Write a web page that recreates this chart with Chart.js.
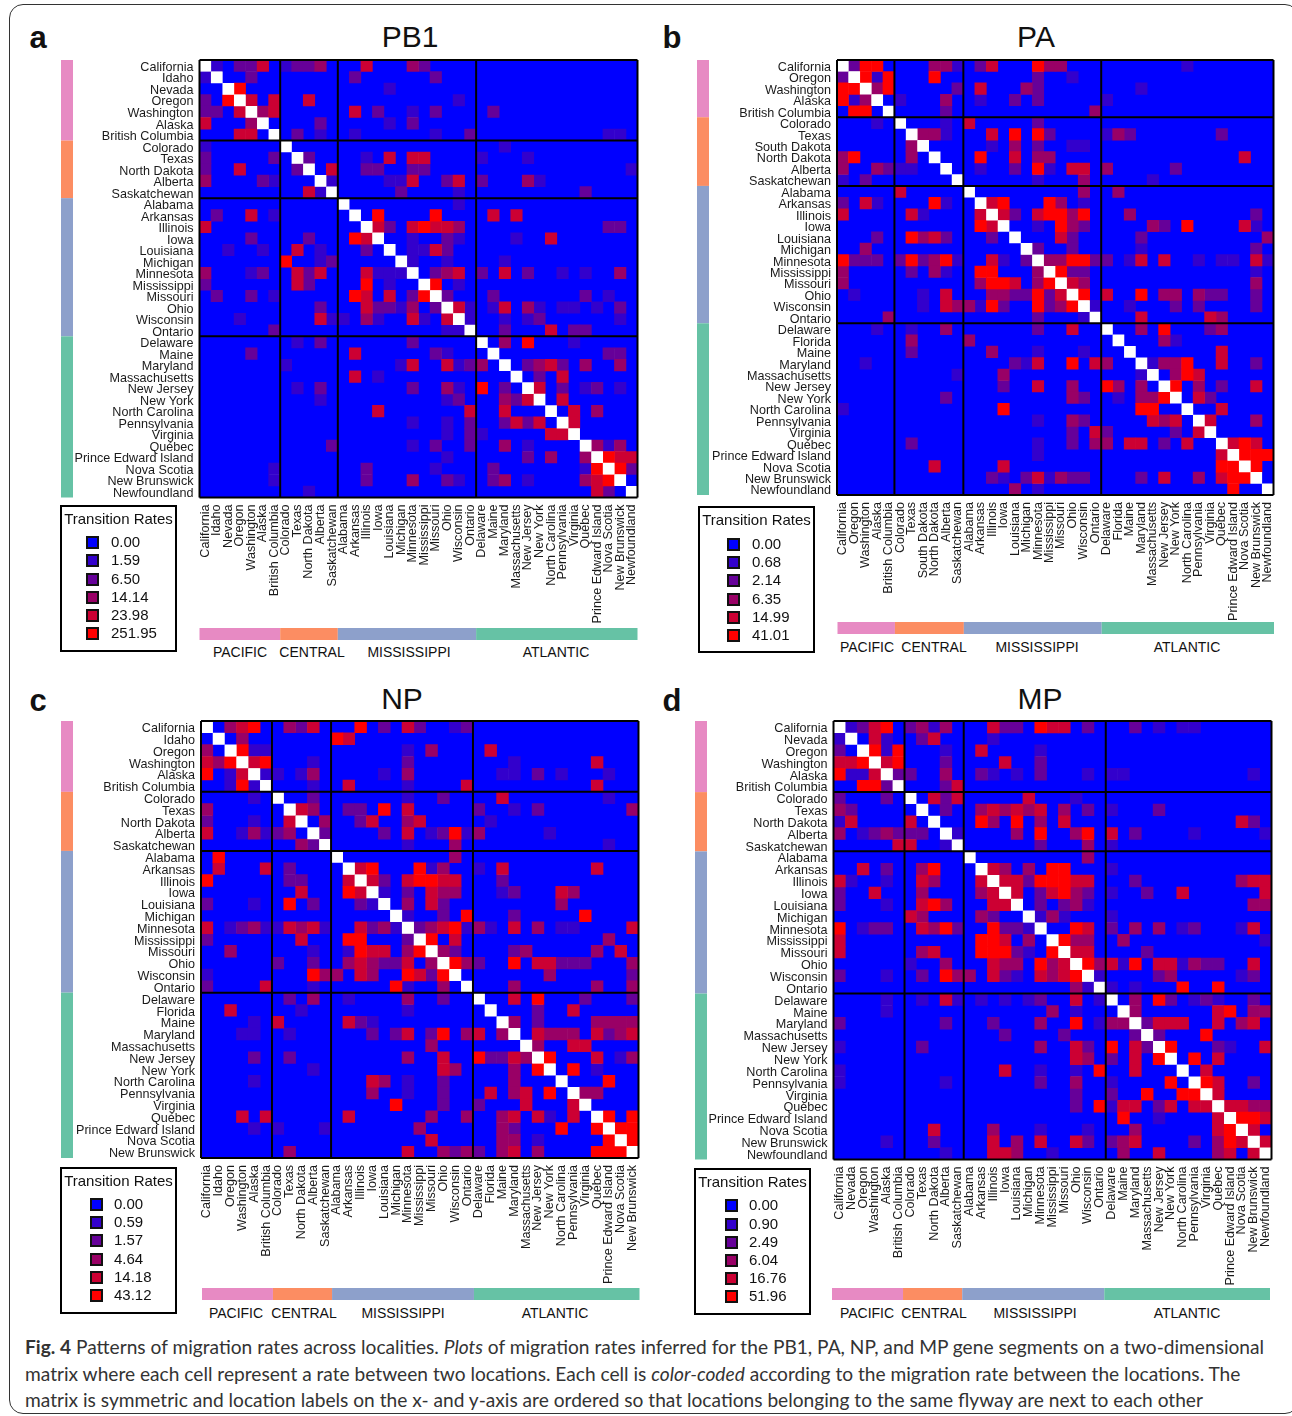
<!DOCTYPE html>
<html>
<head>
<meta charset="utf-8">
<title>Fig. 4</title>
<script src="https://cdn.jsdelivr.net/npm/chart.js@4"></script>
<style>
    html, body { margin: 0; padding: 0; background: #fff; }
    #page { position: relative; width: 1292px; height: 1416px; overflow: hidden; font-family: "Liberation Sans", sans-serif; color: #111; }
    #frame { position: absolute; left: 9px; top: 4px; width: 1290px; height: 1410px; border: 1.5px solid #333; border-radius: 14px; box-sizing: border-box; }
    canvas { position: absolute; }
    .txt { position: absolute; white-space: nowrap; line-height: 1; }
    .legendBox { position: absolute; border: 2px solid #000; box-sizing: border-box; width: 117px; height: 147px; }
    .swatch { position: absolute; width: 13px; height: 13px; border: 2px solid #111; box-sizing: border-box; }
    .caption { position: absolute; left: 25px; white-space: nowrap; font-family: Lato, sans-serif; font-size: 19.15px; color: #333; line-height: 1; }
</style>
</head>
<body>
<div id="page">
    <div id="frame"></div>
</div>
<script>
const flywayNames = ['PACIFIC', 'CENTRAL', 'MISSISSIPPI', 'ATLANTIC'];
const flywayColors = ['#e78ac3', '#fc8d62', '#8da0cb', '#66c2a5'];
const levelColors = ['#0000ff', '#3300cc', '#660099', '#990066', '#cc0033', '#ff0000'];

const mississippiFlyway = ['Alabama', 'Arkansas', 'Illinois', 'Iowa', 'Louisiana', 'Michigan', 'Minnesota', 'Mississippi', 'Missouri', 'Ohio', 'Wisconsin', 'Ontario'];

const pb1Locations = ['California', 'Idaho', 'Nevada', 'Oregon', 'Washington', 'Alaska', 'British Columbia',
    'Colorado', 'Texas', 'North Dakota', 'Alberta', 'Saskatchewan', ...mississippiFlyway,
    'Delaware', 'Maine', 'Maryland', 'Massachusetts', 'New Jersey', 'New York', 'North Carolina', 'Pennsylvania', 'Virginia', 'Québec', 'Prince Edward Island', 'Nova Scotia', 'New Brunswick', 'Newfoundland'];
const paLocations = ['California', 'Oregon', 'Washington', 'Alaska', 'British Columbia',
    'Colorado', 'Texas', 'South Dakota', 'North Dakota', 'Alberta', 'Saskatchewan', ...mississippiFlyway,
    'Delaware', 'Florida', 'Maine', 'Maryland', 'Massachusetts', 'New Jersey', 'New York', 'North Carolina', 'Pennsylvania', 'Virginia', 'Québec', 'Prince Edward Island', 'Nova Scotia', 'New Brunswick', 'Newfoundland'];
const npLocations = ['California', 'Idaho', 'Oregon', 'Washington', 'Alaska', 'British Columbia',
    'Colorado', 'Texas', 'North Dakota', 'Alberta', 'Saskatchewan', ...mississippiFlyway,
    'Delaware', 'Florida', 'Maine', 'Maryland', 'Massachusetts', 'New Jersey', 'New York', 'North Carolina', 'Pennsylvania', 'Virginia', 'Québec', 'Prince Edward Island', 'Nova Scotia', 'New Brunswick'];
const mpLocations = ['California', 'Nevada', 'Oregon', 'Washington', 'Alaska', 'British Columbia',
    'Colorado', 'Texas', 'North Dakota', 'Alberta', 'Saskatchewan', ...mississippiFlyway,
    'Delaware', 'Maine', 'Maryland', 'Massachusetts', 'New Jersey', 'New York', 'North Carolina', 'Pennsylvania', 'Virginia', 'Québec', 'Prince Edward Island', 'Nova Scotia', 'New Brunswick', 'Newfoundland'];

const pb1FlywaySizes = [7, 5, 12, 14];
const paFlywaySizes = [5, 6, 12, 15];
const npFlywaySizes = [6, 5, 12, 14];
const mpFlywaySizes = [6, 5, 12, 14];

const pb1Rates = ['0.00', '1.59', '6.50', '14.14', '23.98', '251.95'];
const paRates = ['0.00', '0.68', '2.14', '6.35', '14.99', '41.01'];
const npRates = ['0.00', '0.59', '1.57', '4.64', '14.18', '43.12'];
const mpRates = ['0.00', '0.90', '2.49', '6.04', '16.76', '51.96'];

// one string per row, "column:colour level", everything not listed is level 0
const pb1Cells = [
    '1:1 3:2 4:2 5:4 7:1 8:2 9:2 10:3 14:4 18:3 19:2',
    '0:1 4:2 13:2 20:2',
    '3:5 16:1',
    '0:2 2:5 4:4 6:4 9:4 22:1',
    '0:2 1:2 3:4 5:3 6:4 13:4 15:2 18:1 20:2 25:2',
    '0:4 4:3 10:2 16:1 18:2',
    '3:4 4:4 8:2 10:1 13:1 20:1 23:2 35:1 36:1',
    '0:1 26:1',
    '0:2 6:2 9:2 14:1 16:4 18:4 19:4 24:1 28:1',
    '0:2 3:4 8:2 11:4 14:2 15:2 18:2 19:2 37:1',
    '0:3 5:2 6:1 11:1 16:1 17:1 18:4 21:2 22:4 24:2 28:3 29:1',
    '9:4 10:1 17:2 22:1 33:2',
    '22:1',
    '1:2 4:4 6:1 15:5 20:5 25:4 27:4',
    '0:4 15:4 16:2 18:4 19:5 20:4 21:4 22:3 35:2 36:2',
    '4:2 9:2 13:5 14:4 18:1 21:2 22:1 27:1 30:4',
    '2:1 5:1 8:4 10:1 14:2 18:1 19:1 20:4 21:2',
    '7:5 10:1 11:2 18:1 21:1 26:1',
    '0:3 4:1 5:2 8:4 9:2 10:4 14:4 15:1 16:1 17:1 20:2 21:3 22:4 24:2 26:4 28:2 31:1 33:1 36:3',
    '0:2 8:4 9:2 14:5 16:1 20:5 22:1',
    '1:2 4:2 6:1 13:5 14:4 16:4 18:2 19:5 21:2 25:2 33:2 35:1',
    '10:2 14:4 15:2 16:2 17:1 18:3 20:2 22:4 23:1 25:1 26:4 28:3 29:1 31:1 32:1 34:1 36:2',
    '3:1 10:4 11:1 12:1 14:3 15:1 18:4 19:1 21:4 23:1 26:1 28:1 29:2 36:1',
    '6:2 21:1 22:1 26:2 30:4 32:2 33:2',
    '8:1 10:2 18:2 26:3 28:5 32:1',
    '4:2 13:4 20:2 21:1 35:2 36:2',
    '7:1 17:1 18:4 21:4 22:1 23:2 24:3 28:2 29:3 30:4 31:2 33:3 36:3',
    '13:4 15:1 29:2 31:4',
    '8:1 10:2 18:2 21:3 22:1 24:5 26:2 29:4 31:2 33:1 34:2 36:1',
    '10:1 21:1 22:2 26:3 27:2 28:4 31:4',
    '15:4 23:4 26:4 32:4 34:3',
    '18:1 21:1 23:2 26:2 27:4 28:2 29:4 32:4',
    '21:1 23:2 24:1 30:4 31:4',
    '11:2 18:1 20:2 23:2 26:3 28:1 34:3 35:1 36:3',
    '21:1 28:2 30:3 33:3 35:5 36:4 37:4',
    '6:1 14:2 20:1 25:2 33:1 34:5 36:5 37:2',
    '6:1 14:2 18:3 21:2 22:1 25:2 26:3 28:1 33:3 34:4 35:5',
    '9:1 34:4 35:2'
];
const paCells = [
    '1:2 2:5 3:5 8:3 9:3 10:1 12:2 13:4 17:5 18:3 19:3 30:1',
    '0:2 2:5 3:1 4:5 8:5 17:2 20:1',
    '0:5 1:5 3:3 4:5 10:2 12:4 16:3 17:2 26:1',
    '0:5 1:1 2:3 5:1 9:3 12:1 15:2 17:2 23:1',
    '1:5 2:5 9:2 22:3',
    '3:1 9:1 11:4 17:2',
    '7:3 8:3 9:1 13:4 15:5 17:5 18:2 23:1 24:3 25:2 33:2',
    '6:3 13:1 15:3 17:2 20:1 21:1',
    '0:3 1:5 6:3 12:5 15:4 17:3 18:3 35:4',
    '0:3 3:3 4:2 5:1 6:1 12:1 15:2 17:5 18:1 20:4 21:4 23:3 29:2',
    '0:1 2:2 17:1 21:3 27:1',
    '5:4 21:3 24:3',
    '0:2 2:4 3:1 8:5 9:1 13:4 14:5 18:5 19:3 21:1',
    '0:4 6:4 7:1 12:4 14:4 15:2 17:4 18:5 19:5 20:3 21:5 25:3 36:2',
    '12:5 13:4 17:1 19:5 20:3 21:2 27:3 28:2 30:5 35:4 36:1',
    '3:2 6:5 7:3 8:4 9:2 13:2 19:4 20:2 26:2 37:3',
    '2:3 17:2 20:2 26:1 36:2',
    '0:5 1:2 2:2 3:2 5:2 6:5 7:2 8:3 9:5 10:1 13:4 14:1 16:2 18:3 19:3 20:5 21:5 22:2 23:2 25:1 26:4 28:4 31:1 33:1 34:1 36:4 37:1',
    '0:3 6:2 8:3 9:1 12:5 13:5 17:3 19:5 20:2 21:2 36:1',
    '0:3 12:3 13:5 14:5 15:4 17:3 18:5 20:4 21:3 36:3',
    '1:1 7:1 9:4 13:3 14:3 15:2 16:2 17:5 18:2 19:4 21:5 23:4 26:5 28:3 29:3 31:3 32:2 33:2 36:2',
    '7:1 9:4 10:3 11:3 12:1 13:5 14:2 17:5 18:2 19:3 20:5 22:1 25:1 29:2 31:2 36:2',
    '4:3 17:2 21:1 26:4 32:4 33:3',
    '3:1 6:1 9:3 17:2 20:4 26:3 28:5 32:2 33:3',
    '6:3 11:3 28:3 29:1',
    '6:2 13:3 17:1 21:1 33:4',
    '2:1 15:2 16:1 17:4 20:5 22:4 23:3 27:1 28:3 29:3 30:5 33:4 36:2',
    '10:1 14:3 26:1 29:3 30:5 31:4',
    '14:2 17:4 20:3 23:5 24:3 26:3 29:5 31:3 33:2 36:4',
    '9:2 20:3 21:2 24:1 26:3 27:3 28:5 31:4 32:2',
    '0:1 14:5 26:5 27:5 33:4',
    '17:1 20:3 21:2 27:4 28:3 29:4 32:4 36:3',
    '20:2 22:4 23:2 29:2 31:4',
    '6:2 17:1 20:2 22:3 23:3 25:4 26:4 28:2 30:4 34:4 35:5 36:4',
    '17:1 33:4 35:5 36:5 37:5',
    '8:4 14:4 33:5 34:5 36:5',
    '13:2 14:1 16:2 17:4 18:1 19:3 20:2 21:2 26:2 28:4 31:3 33:4 34:5 35:5',
    '15:3 17:1 34:5'
];
const npCells = [
    '2:3 3:4 4:5 7:3 8:2 9:4 13:5 15:2 17:4 18:2 21:1 22:2',
    '3:3 11:5 12:4',
    '0:3 3:5 4:1 5:1 17:1 19:3 24:4',
    '0:4 1:3 2:5 4:4 5:5 9:1 17:2 26:1 33:4',
    '0:5 2:1 3:4 5:1 6:1 8:1 9:3 15:1 17:3 25:1 26:1 28:2 30:1 34:1',
    '2:1 3:5 4:1 9:1 12:4 17:1 22:4 33:4',
    '4:1 9:2 17:1 20:2 25:4 34:1',
    '0:3 8:4 9:3 12:2 13:2 15:5 17:4 23:2 26:1 28:2 36:3',
    '0:2 4:1 7:4 10:3 13:2 14:4 17:3 18:4 24:1',
    '0:4 3:1 4:3 5:1 6:2 7:3 10:2 15:2 17:4 19:1 20:2 21:5 22:1 23:3 29:1',
    '8:3 9:2 17:1 21:3 34:1',
    '1:5 21:3',
    '1:4 5:4 7:2 13:4 14:5 18:5 19:1 20:3 23:1 25:4 33:4',
    '0:5 7:2 8:2 12:4 14:4 15:2 17:4 18:5 19:5 20:4 21:4 25:2',
    '8:4 12:5 13:4 15:1 17:2 19:4 20:3 21:3 25:1 26:2 30:4 31:3',
    '0:2 4:1 7:5 9:2 13:2 14:1 17:3 19:4 20:2 30:3',
    '17:1 20:2 22:5 26:2 32:5',
    '0:4 2:1 3:2 4:3 5:1 6:1 7:4 8:3 9:4 10:1 13:4 14:2 15:3 16:1 18:2 19:3 20:4 21:5 22:1 23:3 24:1 26:4 28:3 30:1 31:1 36:4',
    '0:2 8:4 12:5 13:5 17:2 19:5 21:4 34:3',
    '2:3 9:1 12:1 13:5 14:4 15:4 17:3 18:5 20:3 21:2 26:2 27:3 33:3 35:4',
    '6:2 9:2 12:3 13:4 14:3 15:2 16:2 17:4 19:3 21:5 22:3 23:2 26:5 28:4 29:4 30:2 31:2 32:2 36:3',
    '0:1 9:5 10:3 11:3 13:4 14:3 17:5 18:4 19:2 20:5 29:3 36:2',
    '0:2 5:4 9:1 16:5 17:1 20:3 26:3 33:3 36:3',
    '7:2 9:3 12:1 17:3 20:2 26:4 28:5 32:2 36:2',
    '2:4 8:1 17:1 28:2 31:4',
    '4:1 6:4 12:4 13:2 14:1 26:3 28:2 33:3 34:3 35:3 36:3',
    '3:1 4:1 7:1 14:2 16:2 17:4 19:2 20:5 22:3 23:4 25:3 28:4 29:3 30:3 31:3 33:4 34:2 35:3 36:4',
    '19:3 28:3 31:4 32:4',
    '4:2 7:2 17:3 20:4 23:5 24:2 25:2 26:4 27:3 29:5 33:4 35:1 36:3',
    '9:1 20:4 21:3 26:3 28:5 31:5 33:1',
    '4:1 14:4 15:3 17:1 20:2 26:3 34:5',
    '14:3 17:1 20:2 24:4 26:3 27:4 29:5 32:3 33:3',
    '16:5 20:2 23:2 27:4 31:4',
    '3:4 5:4 12:4 19:3 22:3 25:3 26:4 28:4 29:1 31:4 34:5 36:5',
    '4:1 6:1 10:1 18:3 25:3 26:2 30:5 33:5 35:5 36:5',
    '19:4 25:3 26:3 28:1 34:5 36:5',
    '7:3 17:4 20:3 21:2 22:3 23:2 25:3 26:4 28:3 33:5 34:5 35:5'
];
const mpCells = [
    '1:1 2:2 3:4 4:5 6:2 7:3 8:1 9:3 13:4 14:2 15:2 17:5 18:4 19:4 21:2 25:2 27:1 29:1 30:1',
    '0:1 3:4 4:1 7:2 8:4 13:1',
    '0:2 3:5 4:1 5:5 9:1 12:4 17:1',
    '0:4 1:4 2:5 4:4 5:5 9:2 14:4 17:2',
    '0:5 1:1 2:1 3:4 5:2 6:2 9:3 12:2 13:1 15:1 17:2 21:1 23:1 24:1 35:1',
    '2:5 3:5 4:2 9:2 10:4',
    '0:2 4:2 8:4 9:2 10:4 16:4 20:1',
    '0:3 1:2 9:2 12:3 13:4 14:3 15:4 16:3 17:4 19:3 21:2 23:1 27:2',
    '0:1 1:4 6:4 12:5 13:3 15:5 17:3 19:4 34:4 35:2',
    '0:3 2:1 3:2 4:3 5:2 6:2 7:2 10:1 15:3 17:5 20:3 21:5 23:4 25:2 30:1 36:1',
    '5:4 6:4 9:1 17:2 21:3 23:1',
    '21:3',
    '2:4 4:2 7:3 8:5 13:4 14:3 16:3 18:5 19:5 23:1',
    '0:4 1:1 4:1 7:4 8:3 12:4 14:4 15:4 16:2 17:5 18:5 19:5 20:4 21:4 25:2 34:3 35:4 36:4',
    '0:2 3:4 7:3 12:3 13:4 15:4 17:2 18:4 19:5 20:3 21:2 23:1 26:2 29:4 36:4',
    '0:2 4:1 7:4 8:5 9:3 13:4 14:4 17:2 19:2 20:3 21:1 35:3 36:3',
    '6:4 7:3 12:3 13:2 17:1 18:3 19:1 23:1',
    '0:5 2:1 3:2 4:2 7:4 8:3 9:5 10:2 13:5 14:2 15:2 16:1 20:5 21:4 23:2 25:3 27:3 29:1 30:2 34:1 35:4',
    '0:4 12:5 13:5 14:4 16:3 19:5 20:3 21:3 24:3 36:1',
    '0:4 7:3 8:4 12:5 13:5 14:5 15:2 16:1 18:5 20:4 21:4 26:2',
    '6:1 9:3 13:4 14:3 15:3 17:5 18:3 19:4 21:5 22:3 23:4 24:1 25:5 27:4 28:4 29:1 30:3 31:2 32:2 35:4',
    '0:2 4:1 7:2 9:5 10:3 11:3 13:4 14:2 15:1 17:4 18:3 19:4 20:5 22:1 27:2 28:3 34:1 35:2',
    '20:3 21:1 23:1 25:1 29:5 32:5',
    '4:1 7:1 9:4 10:1 12:1 14:1 16:1 17:2 20:4 22:1 25:3 27:5 28:2 30:1 31:2 32:1 35:2',
    '4:1 18:3 20:1 25:3 32:4 33:5 35:3 36:3',
    '0:2 9:2 13:2 17:3 20:5 22:1 23:3 24:3 26:2 27:4 28:4 29:4 32:4 34:3 35:4',
    '14:2 19:2 25:2 27:2 31:5',
    '0:1 7:2 17:3 20:4 21:2 23:5 25:4 26:2 28:5 32:2 33:1 36:4',
    '20:4 21:3 23:2 25:4 27:5 30:5 32:4',
    '0:1 14:4 17:1 20:1 22:5 25:4 31:4',
    '0:1 9:1 17:2 20:3 23:1 28:5 31:5 32:4 35:2',
    '20:2 23:2 26:5 29:5 30:5 32:4',
    '20:2 22:5 23:1 24:4 25:4 27:2 28:4 30:4 31:4 33:4 34:4 35:3 36:3',
    '24:5 27:1 32:4 34:5 35:5 36:4',
    '8:4 13:3 17:1 21:1 25:3 32:4 33:5 35:4',
    '4:1 8:2 13:4 15:3 17:4 20:4 21:2 23:2 24:3 25:4 30:2 32:3 33:5 34:4 36:4',
    '9:1 13:4 14:4 15:3 18:1 24:3 27:4 32:3 33:4 35:4'
];

// where things sit on the page
const panels = [
    {
        title: 'PB1', letter: 'a', locations: pb1Locations, sizes: pb1FlywaySizes, rates: pb1Rates, cells: pb1Cells,
        area: { left: 199.5, top: 60, right: 637.5, bottom: 497.5 },
        sideX: 61, bandY: 628, bandShift: 0, bandLabelY: 652, bandLabelX: [240, 312, 409, 556],
        titleX: 410, titleY: 37, letterX: 38, letterY: 37,
        legend: { x: 60, y: 505, rowY: [542, 560, 579, 597, 615, 633], swatchX: 86, textX: 111 }
    },
    {
        title: 'PA', letter: 'b', locations: paLocations, sizes: paFlywaySizes, rates: paRates, cells: paCells,
        area: { left: 837, top: 60, right: 1273.5, bottom: 495 },
        sideX: 697, bandY: 622, bandShift: 0.5, bandLabelY: 647, bandLabelX: [867, 934, 1037, 1187],
        titleX: 1036, titleY: 37, letterX: 672, letterY: 37,
        legend: { x: 698, y: 506, rowY: [544, 562, 580, 599, 617, 635], swatchX: 727, textX: 752 }
    },
    {
        title: 'NP', letter: 'c', locations: npLocations, sizes: npFlywaySizes, rates: npRates, cells: npCells,
        area: { left: 201, top: 721, right: 638.5, bottom: 1158 },
        sideX: 61, bandY: 1288, bandShift: 1, bandLabelY: 1313, bandLabelX: [236, 304, 403, 555],
        titleX: 402, titleY: 699, letterX: 38, letterY: 700,
        legend: { x: 60, y: 1167, rowY: [1204, 1222, 1240, 1259, 1277, 1295], swatchX: 90, textX: 114 }
    },
    {
        title: 'MP', letter: 'd', locations: mpLocations, sizes: mpFlywaySizes, rates: mpRates, cells: mpCells,
        area: { left: 833.5, top: 721, right: 1271.5, bottom: 1159.5 },
        sideX: 695, bandY: 1288, bandShift: -1.5, bandLabelY: 1313, bandLabelX: [867, 934, 1035, 1187],
        titleX: 1040, titleY: 699, letterX: 672, letterY: 700,
        legend: { x: 694, y: 1168, rowY: [1205, 1224, 1242, 1260, 1278, 1296], swatchX: 725, textX: 749 }
    }
];

const captionLines = [
    '<b>Fig. 4</b> Patterns of migration rates across localities. <i>Plots</i> of migration rates inferred for the PB1, PA, NP, and MP gene segments on a two-dimensional',
    'matrix where each cell represent a rate between two locations. Each cell is <i>color-coded</i> according to the migration rate between the locations. The',
    'matrix is symmetric and location labels on the x- and y-axis are ordered so that locations belonging to the same flyway are next to each other'
];
const captionTops = [1337, 1364, 1390];

const page = document.getElementById('page');

function addText(text, x, y, size, align, bold) {
    const el = document.createElement('div');
    el.className = 'txt';
    el.textContent = text;
    el.style.left = x + 'px';
    el.style.top = y + 'px';
    el.style.fontSize = size + 'px';
    if (bold) el.style.fontWeight = 'bold';
    el.style.transform = align == 'center' ? 'translate(-50%,-50%)' : 'translate(0,-50%)';
    page.appendChild(el);
}

// flyway colour bands next to the axes, they follow the scales of the matrix
const flywayBands = {
    id: 'flywayBands',
    beforeDraw(chart, args, opts) {
        const ctx = chart.ctx;
        const { x, y } = chart.scales;
        let start = 0;
        opts.sizes.forEach((size, i) => {
            const end = start + size;
            ctx.fillStyle = flywayColors[i];
            ctx.fillRect(opts.sideLeft, y.getPixelForValue(start), 12, y.getPixelForValue(end) - y.getPixelForValue(start));
            ctx.fillRect(x.getPixelForValue(start) + opts.shift, opts.bandTop, x.getPixelForValue(end) - x.getPixelForValue(start), 12);
            start = end;
        });
    }
};

function buildDatasets(panel) {
    const count = panel.locations.length;
    const byLevel = levelColors.map(() => []);
    const diagonal = [];
    for (let r = 0; r < count; r++) {
        const row = {};
        panel.cells[r].split(' ').forEach(part => {
            const [c, level] = part.split(':');
            row[c] = Number(level);
        });
        for (let c = 0; c < count; c++) {
            if (r == c) diagonal.push({ x: c + 0.5, y: r + 0.5 });
            else byLevel[row[c] || 0].push({ x: c + 0.5, y: r + 0.5 });
        }
    }

    // the rect point style is radius * sqrt(2) wide, a little overlap hides the seams
    const cellRadius = overlap => ctx => {
        const scale = ctx.chart.scales.x;
        return (scale.getPixelForValue(1) - scale.getPixelForValue(0) + overlap) / 2 * Math.SQRT2;
    };
    const cellSet = (label, color, data, overlap) => ({
        label, data,
        backgroundColor: color,
        pointStyle: 'rect',
        pointRadius: cellRadius(overlap),
        pointBorderWidth: 0,
        pointHoverRadius: cellRadius(overlap),
        showLine: false
    });
    const lineSet = data => ({
        data, showLine: true, clip: false,
        borderColor: '#000', borderWidth: 2, pointRadius: 0
    });

    // first dataset is painted last
    const sets = [];
    let edges = [0];
    panel.sizes.forEach(size => edges.push(edges[edges.length - 1] + size));
    edges.forEach(e => {
        sets.push(lineSet([{ x: e, y: 0 }, { x: e, y: count }]));
        sets.push(lineSet([{ x: 0, y: e }, { x: count, y: e }]));
    });
    sets.push(cellSet('diagonal', '#ffffff', diagonal, 0.2));
    for (let l = levelColors.length - 1; l >= 0; l--) {
        sets.push(cellSet(panel.rates[l], levelColors[l], byLevel[l], l == 0 ? 1.2 : 0.6));
    }
    return sets;
}

function drawPanel(panel) {
    const a = panel.area;
    const boxLeft = Math.floor(panel.sideX) - 2;
    const boxTop = Math.floor(a.top) - 4;
    const boxRight = Math.ceil(a.right) + 4;
    const boxBottom = panel.bandY + 14;
    const canvas = document.createElement('canvas');
    canvas.width = boxRight - boxLeft;
    canvas.height = boxBottom - boxTop;
    canvas.style.left = boxLeft + 'px';
    canvas.style.top = boxTop + 'px';
    page.appendChild(canvas);

    const count = panel.locations.length;
    const tickFont = { family: '"Liberation Sans"', size: 12.6 };
    const placeTicks = scale => {
        scale.ticks = panel.locations.map((name, i) => ({ value: i + 0.5 }));
    };
    // rotated labels would otherwise pull the chart area in
    const noPadding = scale => {
        scale.paddingTop = scale.paddingBottom = scale.paddingLeft = scale.paddingRight = 0;
    };

    new Chart(canvas, {
        type: 'scatter',
        data: { datasets: buildDatasets(panel) },
        options: {
            responsive: false,
            animation: false,
            devicePixelRatio: 1,
            layout: { padding: { top: a.top - boxTop, right: boxRight - a.right, left: 0, bottom: 0 } },
            plugins: {
                legend: { display: false },
                tooltip: { enabled: false },
                flywayBands: { sizes: panel.sizes, sideLeft: panel.sideX - boxLeft, bandTop: panel.bandY - boxTop, shift: panel.bandShift }
            },
            scales: {
                x: {
                    type: 'linear', min: 0, max: count, position: 'bottom',
                    grid: { display: false, drawTicks: false },
                    border: { display: false },
                    afterBuildTicks: placeTicks,
                    afterFit: scale => { scale.height = boxBottom - a.bottom; noPadding(scale); },
                    ticks: {
                        autoSkip: false, maxRotation: 90, minRotation: 90, padding: 7, labelOffset: 0,
                        color: '#1a1a1a', font: tickFont,
                        callback: (value, index) => panel.locations[index]
                    }
                },
                y: {
                    type: 'linear', min: 0, max: count, reverse: true, position: 'left',
                    grid: { display: false, drawTicks: false },
                    border: { display: false },
                    afterBuildTicks: placeTicks,
                    afterFit: scale => { scale.width = a.left - boxLeft; noPadding(scale); },
                    ticks: {
                        autoSkip: false, padding: 6, labelOffset: 1.7,
                        color: '#1a1a1a', font: tickFont,
                        callback: (value, index) => panel.locations[index]
                    }
                }
            }
        },
        plugins: [flywayBands]
    });

    addText(panel.title, panel.titleX, panel.titleY, 30, 'center');
    addText(panel.letter, panel.letterX, panel.letterY, 31, 'center', true);
    flywayNames.forEach((name, i) => addText(name, panel.bandLabelX[i], panel.bandLabelY, 14, 'center'));

    const lg = panel.legend;
    const box = document.createElement('div');
    box.className = 'legendBox';
    box.style.left = lg.x + 'px';
    box.style.top = lg.y + 'px';
    page.appendChild(box);
    addText('Transition Rates', lg.x + 58.5, lg.y + 13, 15, 'center');
    panel.rates.forEach((rate, i) => {
        const sw = document.createElement('div');
        sw.className = 'swatch';
        sw.style.left = lg.swatchX + 'px';
        sw.style.top = (lg.rowY[i] - 6.5) + 'px';
        sw.style.background = levelColors[i];
        page.appendChild(sw);
        addText(rate, lg.textX, lg.rowY[i] - 1, 15, 'left');
    });
}

panels.forEach(drawPanel);

captionLines.forEach((line, i) => {
    const el = document.createElement('div');
    el.className = 'caption';
    el.innerHTML = line;
    el.style.top = captionTops[i] + 'px';
    page.appendChild(el);
});
</script>
</body>
</html>
